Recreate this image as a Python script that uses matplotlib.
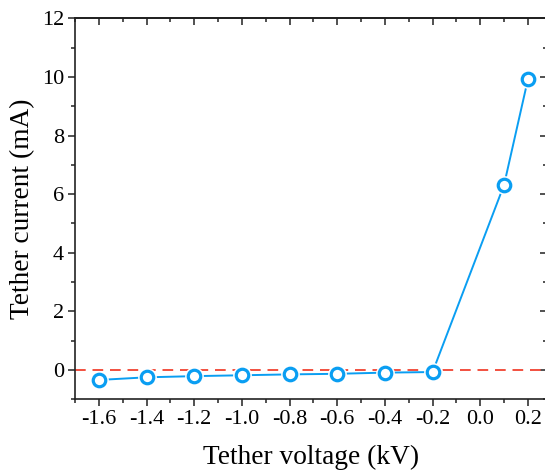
import matplotlib
matplotlib.use("Agg")
import matplotlib.pyplot as plt
from matplotlib.ticker import MultipleLocator

voltage_kV = [-1.6, -1.4, -1.2, -1.0, -0.8, -0.6, -0.4, -0.2, 0.1, 0.2]
current_mA = [-0.34, -0.25, -0.21, -0.18, -0.15, -0.13, -0.09, -0.07, 6.32, 9.92]
x_ticks = [-1.6, -1.4, -1.2, -1.0, -0.8, -0.6, -0.4, -0.2, 0.0, 0.2]
y_ticks = [0, 2, 4, 6, 8, 10, 12]

plt.rcParams['font.family'] = ['Liberation Serif', 'DejaVu Serif']

fig = plt.figure(figsize=(5.45, 4.76), dpi=100)
ax = fig.add_axes([75/545, (476-399.3)/476, (547-75)/545, (399.3-18.3)/476])

blue = '#0A9EF2'
ax.axhline(0, color='#F2503F', lw=1.4, ls=(0, (5.5, 3.5)), zorder=1)
ax.plot(voltage_kV, current_mA, color=blue, lw=1.4, zorder=2)
# white ring to create a small gap between line and symbols
ax.plot(voltage_kV, current_mA, ls='none', marker='o', ms=12,
        mfc='white', mec='white', mew=1.5, zorder=2.5)
ax.plot(voltage_kV, current_mA, ls='none', marker='o', ms=9,
        mfc='white', mec=blue, mew=2.3, zorder=3)

ax.set_xlim(-1.7, 0.28)
ax.set_ylim(-1, 12)
ax.set_xticks(x_ticks)
ax.set_yticks(y_ticks)
ax.set_xticklabels([f'{v:.1f}' for v in x_ticks])
ax.set_yticklabels([str(v) for v in y_ticks])
ax.xaxis.set_minor_locator(MultipleLocator(0.1))
ax.yaxis.set_minor_locator(MultipleLocator(1))

for sp in ax.spines.values():
    sp.set_linewidth(1.2)
    sp.set_color('#222222')

ax.tick_params(which='both', direction='out', colors='#222222', labelcolor='black',
               width=1.1, labelsize=16, pad=3)
ax.tick_params(which='major', length=5)
ax.tick_params(which='minor', length=3)

ax2x = ax.secondary_xaxis('top')
ax2x.set_xticks(x_ticks)
ax2x.xaxis.set_minor_locator(MultipleLocator(0.1))
ax2x.tick_params(which='both', direction='in', labeltop=False, width=1.1, colors='#222222')
ax2x.tick_params(which='major', length=5)
ax2x.tick_params(which='minor', length=3)
ax2x.spines['top'].set_linewidth(1.2)
ax2y = ax.secondary_yaxis('right')
ax2y.set_yticks(y_ticks)
ax2y.yaxis.set_minor_locator(MultipleLocator(1))
ax2y.tick_params(which='both', direction='in', labelright=False, width=1.1, colors='#222222')
ax2y.tick_params(which='major', length=5)
ax2y.tick_params(which='minor', length=3)

ax.set_xlabel('Tether voltage (kV)', fontsize=19.7, labelpad=11)
ax.set_ylabel('Tether current (mA)', fontsize=19.7, labelpad=5)

fig.savefig('out.png', dpi=100)
